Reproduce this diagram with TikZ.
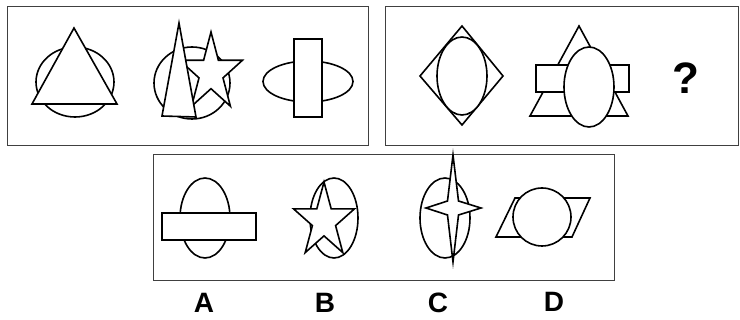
\documentclass[tikz,border=0pt]{standalone}
\usepackage{fontspec}
\setsansfont{Liberation Sans}
\usepackage{tikz}

\begin{document}
\begin{tikzpicture}[x=1pt, y=-1pt,
  figline/.style={fill=white, draw=black, line width=1.6pt},
  panel/.style={draw=black!75, line width=1pt},
  choice/.style={font=\sffamily\bfseries\fontsize{28}{28}\selectfont}]

\useasboundingbox (0,0) rectangle (740,320);

%% ─── Frames ─────────────────────────────────────────────────
\draw[panel] (7,7) rectangle (368,146);
\draw[panel] (385,7) rectangle (738.5,146);
\draw[panel] (153,155) rectangle (614,281);

%% ─── Top left: circle + triangle ────────────────────────────
\filldraw[figline] (75,82) ellipse [x radius=39pt, y radius=35pt];
\filldraw[figline] (74,28) -- (117,104) -- (32,104) -- cycle;

%% ─── Top left: circle + star + thin triangle ────────────────
\filldraw[figline] (192,83) ellipse [x radius=38pt, y radius=36pt];
\filldraw[figline] (211,32) -- (218.4,60.3) -- (242.4,60.3) -- (223,77.9)
  -- (230.4,106.2) -- (211,88.7) -- (191.6,106.2) -- (199,77.9)
  -- (179.6,60.3) -- (203.6,60.3) -- cycle;
\filldraw[figline] (179,23) -- (196,117) -- (162,116) -- cycle;

%% ─── Top left: ellipse + upright bar ────────────────────────
\filldraw[figline] (308,81.5) ellipse [x radius=45pt, y radius=20.5pt];
\filldraw[figline] (294,39) rectangle (322,117);

%% ─── Top right: diamond + ellipse ───────────────────────────
\filldraw[figline] (462,26) -- (503,76) -- (462,125) -- (420,76) -- cycle;
\filldraw[figline] (462,76) ellipse [x radius=25pt, y radius=39pt];

%% ─── Top right: triangle + bar + ellipse ────────────────────
\filldraw[figline] (579,26) -- (628,116) -- (530,116) -- cycle;
\filldraw[figline] (536,65) rectangle (629,92);
\filldraw[figline] (589,87) ellipse [x radius=25pt, y radius=40pt];

%% Missing figure
\node[font=\sffamily\bfseries\fontsize{44}{44}\selectfont] (qmark) at (686,78) {?};

%% ─── Options ────────────────────────────────────────────────
%% A
\filldraw[figline] (205,218) ellipse [x radius=25pt, y radius=40pt];
\filldraw[figline] (162,213) rectangle (256,240);
%% B
\filldraw[figline] (334,218) ellipse [x radius=24pt, y radius=40pt];
\filldraw[figline] (324,182) -- (331.2,208.9) -- (354.4,208.9) -- (335.6,225.6)
  -- (342.8,252.6) -- (324,235.9) -- (305.2,252.6) -- (312.4,225.6)
  -- (293.6,208.9) -- (316.8,208.9) -- cycle;
%% C
\filldraw[figline] (445,218) ellipse [x radius=25pt, y radius=40pt];
\filldraw[figline] (453,155) -- (458.5,201) -- (481,208) -- (458.5,215)
  -- (453,262) -- (447.5,215) -- (426,208) -- (447.5,201) -- cycle;
%% D
\filldraw[figline] (515,198) -- (590,198) -- (572,237) -- (496,237) -- cycle;
\filldraw[figline] (542,217) circle [radius=29pt];

%% Option letters
\node[choice] (labA) at (204,303) {A};
\node[choice] (labB) at (325,303) {B};
\node[choice] (labC) at (438,303) {C};
\node[choice] (labD) at (554,302) {D};

\end{tikzpicture}
\end{document}
